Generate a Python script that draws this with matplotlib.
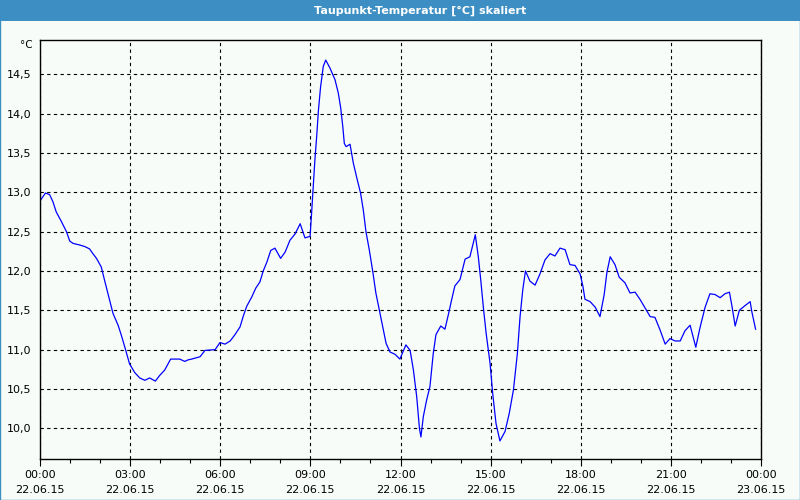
import matplotlib
matplotlib.use("Agg")
import matplotlib.pyplot as plt
from matplotlib.patches import Rectangle

# Hours since 22.06.15 00:00 and dew point values [°C]
hours = [0.02, 0.18, 0.32, 0.43, 0.54, 0.71, 0.88, 0.99, 1.10, 1.32, 1.49, 1.65, 1.76, 1.88,
         2.04, 2.15, 2.29, 2.43, 2.60, 2.71, 2.84, 2.98, 3.15, 3.32, 3.49, 3.65, 3.84, 3.98,
         4.15, 4.35, 4.65, 4.82, 4.93, 5.05, 5.33, 5.49, 5.83, 5.99, 6.16, 6.33, 6.49, 6.66,
         6.77, 6.88, 7.05, 7.18, 7.32, 7.43, 7.55, 7.68, 7.82, 8.01, 8.16, 8.32, 8.49, 8.66,
         8.82, 8.99, 9.04, 9.10, 9.15, 9.21, 9.27, 9.34, 9.43, 9.51, 9.65, 9.82, 9.93, 10.01,
         10.08, 10.13, 10.19, 10.32, 10.43, 10.56, 10.67, 10.76, 10.85, 10.96, 11.07, 11.18,
         11.32, 11.43, 11.52, 11.65, 11.82, 11.98, 12.18, 12.32, 12.43, 12.54, 12.63, 12.68,
         12.76, 12.87, 12.98, 13.09, 13.18, 13.34, 13.48, 13.59, 13.70, 13.81, 13.98, 14.15,
         14.31, 14.49, 14.59, 14.67, 14.76, 14.85, 14.98, 15.07, 15.18, 15.31, 15.48, 15.62,
         15.76, 15.89, 15.98, 16.07, 16.16, 16.31, 16.48, 16.64, 16.81, 16.98, 17.14, 17.31,
         17.48, 17.64, 17.81, 17.98, 18.07, 18.14, 18.31, 18.48, 18.64, 18.78, 18.87, 18.98,
         19.14, 19.28, 19.47, 19.64, 19.81, 19.97, 20.14, 20.31, 20.47, 20.64, 20.81, 20.97,
         21.14, 21.31, 21.47, 21.64, 21.83, 21.97, 22.14, 22.30, 22.47, 22.64, 22.80, 22.95,
         23.03, 23.14, 23.28, 23.47, 23.64, 23.69, 23.82]
values = [12.90, 12.99, 12.97, 12.88, 12.75, 12.63, 12.50, 12.38, 12.35, 12.33, 12.31, 12.28, 12.22, 12.16,
          12.05, 11.88, 11.67, 11.46, 11.31, 11.18, 11.01, 10.82, 10.71, 10.64, 10.61, 10.64, 10.60, 10.67,
          10.74, 10.88, 10.88, 10.85, 10.87, 10.88, 10.91, 10.99, 11.00, 11.09, 11.07, 11.11, 11.19, 11.29,
          11.43, 11.55, 11.67, 11.78, 11.86, 12.00, 12.11, 12.26, 12.29, 12.16, 12.24, 12.39, 12.47, 12.60,
          12.42, 12.44, 12.73, 13.11, 13.41, 13.71, 14.05, 14.34, 14.60, 14.68, 14.58, 14.43, 14.26, 14.07,
          13.83, 13.62, 13.58, 13.61, 13.37, 13.16, 12.99, 12.78, 12.50, 12.27, 12.01, 11.72,
          11.46, 11.25, 11.08, 10.97, 10.94, 10.88, 11.06, 10.99, 10.74, 10.40, 10.00, 9.89,
          10.15, 10.36, 10.53, 10.95, 11.19, 11.30, 11.26, 11.44, 11.63, 11.81, 11.89, 12.15,
          12.18, 12.46, 12.18, 11.89, 11.53, 11.21, 10.83, 10.44, 10.06, 9.84, 9.96, 10.19,
          10.49, 10.95, 11.42, 11.76, 12.00, 11.87, 11.82, 11.96, 12.14, 12.22, 12.19, 12.29,
          12.27, 12.08, 12.07, 11.96, 11.81, 11.64, 11.61, 11.54, 11.42, 11.70, 11.98, 12.18,
          12.08, 11.92, 11.85, 11.72, 11.73, 11.64, 11.53, 11.42, 11.41, 11.25, 11.07, 11.14,
          11.11, 11.11, 11.24, 11.31, 11.03, 11.28, 11.54, 11.71, 11.70, 11.66, 11.71, 11.73,
          11.56, 11.30, 11.50, 11.56, 11.61, 11.49, 11.26]

y_ticks = [10.0, 10.5, 11.0, 11.5, 12.0, 12.5, 13.0, 13.5, 14.0, 14.5]
y_labels = ["10,0", "10,5", "11,0", "11,5", "12,0", "12,5", "13,0", "13,5", "14,0", "14,5"]
x_ticks = [0, 3, 6, 9, 12, 15, 18, 21, 24]
x_labels = ["00:00\n22.06.15", "03:00\n22.06.15", "06:00\n22.06.15", "09:00\n22.06.15",
            "12:00\n22.06.15", "15:00\n22.06.15", "18:00\n22.06.15", "21:00\n22.06.15",
            "00:00\n23.06.15"]
title = "Taupunkt-Temperatur [°C] skaliert"
unit = "°C"

bg = "#f8fcf8"
bar_blue = "#3d8fc3"

fig = plt.figure(figsize=(8, 5), dpi=100, facecolor=bg)

# title bar and outer frame
fig.patches.append(Rectangle((0, 1 - 21 / 500), 1, 21 / 500, transform=fig.transFigure,
                             facecolor=bar_blue, edgecolor="none", zorder=0))
fig.patches.append(Rectangle((0.0006, 0.001), 0.9988, 0.998, transform=fig.transFigure,
                             facecolor="none", edgecolor=bar_blue, linewidth=1.0, zorder=1))
fig.text(420 / 800, 1 - 10.5 / 500, title, color="white", fontsize=8, fontweight="bold",
         ha="center", va="center", family="DejaVu Sans")

ax = fig.add_axes([40 / 800, 1 - 459 / 500, 721 / 800, 419 / 500])
ax.set_facecolor(bg)
ax.plot(hours, values, color="#0000ff", linewidth=0.9)

ax.set_xlim(0, 24)
ax.set_ylim(9.61, 14.935)
ax.set_yticks(y_ticks)
ax.set_yticklabels(y_labels, fontsize=8)
ax.set_xticks(x_ticks)
ax.set_xticklabels(x_labels, fontsize=8, linespacing=1.55)
ax.set_xticks(list(range(25)), minor=True)
ax.tick_params(axis="y", length=0, pad=6)
ax.tick_params(axis="x", which="major", length=5, width=0.8, pad=3)
ax.tick_params(axis="x", which="minor", length=3, width=0.8)
ax.grid(True, which="major", color="black", linestyle=(0, (3, 3)), linewidth=0.8)
for s in ax.spines.values():
    s.set_color("black")
    s.set_linewidth(1.0)

fig.text(33 / 800, 1 - 45 / 500, unit, fontsize=7.5, ha="right", va="center")

fig.savefig("out.png", dpi=100, facecolor=bg)
